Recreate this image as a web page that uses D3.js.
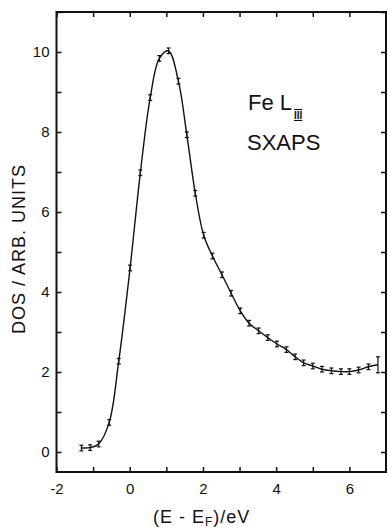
<!DOCTYPE html>
<html>
<head>
<meta charset="utf-8">
<script src="https://cdn.jsdelivr.net/npm/d3@7"></script>
<style>
    body { margin: 0; background: #fff; }
    svg { display: block; }
    text { font-family: 'Liberation Sans', Arial, sans-serif; fill: #111; }
</style>
</head>
<body>
<svg id="chart" width="387" height="530"></svg>
<script>
// energy (eV, relative to E_F) and DOS values
let energy = [-1.32, -1.08, -0.85, -0.56, -0.30, 0.01, 0.29, 0.56, 0.81, 1.06,
    1.33, 1.56, 1.79, 2.02, 2.26, 2.52, 2.77, 3.02, 3.26, 3.52,
    3.77, 4.02, 4.28, 4.52, 4.75, 5.00, 5.25, 5.51, 5.77, 6.00,
    6.25, 6.52, 6.78];
let dos = [0.10, 0.11, 0.20, 0.74, 2.27, 4.60, 6.98, 8.86, 9.84, 10.03,
    9.27, 7.93, 6.47, 5.42, 4.90, 4.43, 3.97, 3.53, 3.22, 3.03,
    2.86, 2.70, 2.56, 2.38, 2.23, 2.15, 2.07, 2.03, 2.01, 2.01,
    2.05, 2.13, 2.18];
let errs = [0.07, 0.07, 0.07, 0.07, 0.07, 0.07, 0.07, 0.07, 0.07, 0.07,
    0.07, 0.07, 0.07, 0.07, 0.07, 0.07, 0.07, 0.07, 0.07, 0.07,
    0.07, 0.07, 0.07, 0.07, 0.07, 0.07, 0.07, 0.07, 0.07, 0.07,
    0.07, 0.07, 0.2];

let xTicks = [-2, -1, 0, 1, 2, 3, 4, 5, 6, 7];
let xLabels = [-2, 0, 2, 4, 6];
let yTicks = [0, 1, 2, 3, 4, 5, 6, 7, 8, 9, 10, 11];
let yLabels = [0, 2, 4, 6, 8, 10];

let points = energy.map(function(e, i) {
    return { e: e, v: dos[i], err: errs[i] };
});

let svg = d3.select('#chart');
let x = d3.scaleLinear().domain([-2, 7]).range([56.5, 386]);
let y = d3.scaleLinear().domain([-0.5, 11]).range([472, 12]);

function label(list) {
    return function(d) { return list.indexOf(d) >= 0 ? String(d) : ''; };
}

// axes, ticks all point inward
let gb = svg.append('g').attr('transform', 'translate(0,' + y(-0.5) + ')')
    .call(d3.axisBottom(x).tickValues(xTicks).tickSize(-5).tickPadding(11).tickFormat(label(xLabels)));
let gt = svg.append('g').attr('transform', 'translate(0,' + y(11) + ')')
    .call(d3.axisTop(x).tickValues(xTicks).tickSize(-5).tickFormat(''));
let gl = svg.append('g').attr('transform', 'translate(' + x(-2) + ',0)')
    .call(d3.axisLeft(y).tickValues(yTicks).tickSize(-5).tickPadding(7).tickFormat(label(yLabels)));
let gr = svg.append('g').attr('transform', 'translate(' + x(7) + ',0)')
    .call(d3.axisRight(y).tickValues(yTicks).tickSize(-5).tickFormat(''));

[gb, gt, gl, gr].forEach(function(g) {
    g.select('.domain').remove();
    g.selectAll('line').attr('stroke', '#111').attr('stroke-width', 1.5);
    g.selectAll('text').style('font-size', '15px').attr('fill', '#111');
});

// frame
svg.append('rect')
    .attr('x', x(-2)).attr('y', y(11))
    .attr('width', x(7) - x(-2)).attr('height', y(-0.5) - y(11))
    .attr('fill', 'none').attr('stroke', '#111').attr('stroke-width', 2);

// curve through the measured points
let line = d3.line()
    .x(function(d) { return x(d.e); })
    .y(function(d) { return y(d.v); })
    .curve(d3.curveCatmullRom.alpha(0.5));

svg.append('path')
    .datum(points)
    .attr('d', line)
    .attr('fill', 'none')
    .attr('stroke', '#111')
    .attr('stroke-width', 1.4);

// error bars
let bars = svg.append('g').attr('stroke', '#111').attr('stroke-width', 1.2);
points.forEach(function(d) {
    let cx = x(d.e);
    bars.append('line')
        .attr('x1', cx).attr('x2', cx)
        .attr('y1', y(d.v - d.err)).attr('y2', y(d.v + d.err));
    [d.v - d.err, d.v + d.err].forEach(function(v) {
        bars.append('line')
            .attr('x1', cx - 2).attr('x2', cx + 2)
            .attr('y1', y(v)).attr('y2', y(v));
    });
});

// axis titles
svg.append('text')
    .attr('transform', 'translate(25,249) rotate(-90)')
    .attr('text-anchor', 'middle')
    .style('font-size', '18px')
    .style('letter-spacing', '1px')
    .text('DOS / ARB. UNITS');

let xt = svg.append('text')
    .attr('x', 153).attr('y', 523)
    .style('font-size', '18px')
    .style('letter-spacing', '1px');
xt.append('tspan').text('(E - E');
xt.append('tspan').attr('dy', 3).style('font-size', '12px').text('F');
xt.append('tspan').attr('dy', -3).text(')/eV');

// labels inside the plot
let t1 = svg.append('text')
    .attr('x', 248).attr('y', 110)
    .style('font-size', '22px');
t1.append('tspan').text('Fe L');
t1.append('tspan')
    .attr('dx', 2).attr('dy', 9)
    .style('font-size', '10px')
    .style('font-weight', 'bold')
    .style('text-decoration', 'overline underline')
    .text('III');

svg.append('text')
    .attr('x', 247).attr('y', 150)
    .style('font-size', '22px')
    .text('SXAPS');
</script>
</body>
</html>
